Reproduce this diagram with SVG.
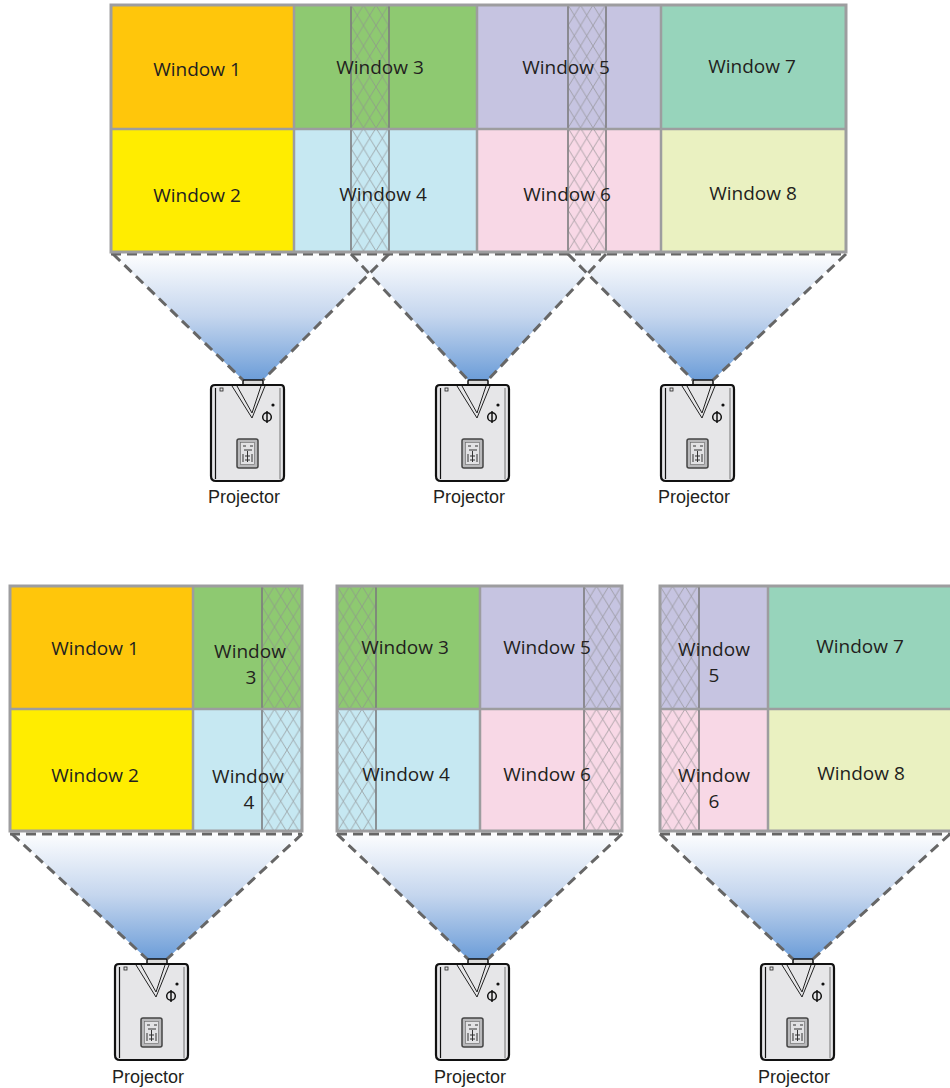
<svg xmlns="http://www.w3.org/2000/svg" xmlns:xlink="http://www.w3.org/1999/xlink" width="950" height="1088" viewBox="0 0 950 1088">
  <style>
    .lbl { font-family: "Open Sans", "Liberation Sans", sans-serif; font-size: 19px; fill: #231f20; text-anchor: middle; }
    .plbl { font-family: "Liberation Sans", Arial, sans-serif; font-size: 18px; fill: #231f20; text-anchor: middle; }
    .grid { fill: none; stroke: #9d9d9f; stroke-width: 3; }
    .div { stroke: #9d9d9f; stroke-width: 2.5; }
    .edge { stroke: #7c7c7e; stroke-width: 1.6; }
    .dash { fill: none; stroke: #666; stroke-width: 3; stroke-dasharray: 10 6; }
    .beam { fill: url(#beamGrad); }
    .w1 { fill: #ffc60b; } .w2 { fill: #ffed00; } .w3 { fill: #8ec971; } .w4 { fill: #c6e8f2; }
    .w5 { fill: #c6c4e1; } .w6 { fill: #f8d8e6; } .w7 { fill: #97d4bb; } .w8 { fill: #eaf1c1; }
  </style>
  <defs>
    <linearGradient id="beamGrad" x1="0" y1="0" x2="0" y2="1">
      <stop offset="0" stop-color="#ffffff"/>
      <stop offset="0.5" stop-color="#c5d6ee"/>
      <stop offset="1" stop-color="#6c9dd8"/>
    </linearGradient>
    <pattern id="hatch" patternUnits="userSpaceOnUse" width="12.5" height="20.5">
      <path d="M0,0 L12.5,20.5 M12.5,0 L0,20.5" stroke="#8e8e90" stroke-width="0.7" fill="none"/>
    </pattern>
    <!-- projector drawn relative to the top centre of its lens -->
    <g id="projIcon">
      <rect x="-10" y="0" width="20" height="6" rx="1" fill="#dcdcdc" stroke="#111" stroke-width="1.5"/>
      <path d="M-38,5 H28 Q31,5 31,9 V96 Q31,101 26,101 H-37 Q-42,101 -42,96 V9 Q-42,5 -38,5 Z" fill="#e6e6e8" stroke="#111" stroke-width="2.2"/>
      <path d="M-37.5,8 V99" stroke="#111" stroke-width="1.2"/>
      <path d="M27,8 V99" stroke="#555" stroke-width="0.8"/>
      <path d="M-21,6 L-1,38 L12,6" fill="none" stroke="#222" stroke-width="1"/>
      <path d="M-16,6 L-1,33 L8,6" fill="none" stroke="#222" stroke-width="1"/>
      <rect x="-33" y="8" width="3" height="3" fill="none" stroke="#222" stroke-width="0.8"/>
      <circle cx="20" cy="25" r="1.6" fill="#111"/>
      <circle cx="14" cy="37" r="4.3" fill="none" stroke="#111" stroke-width="1.5"/>
      <path d="M14,31 V43" stroke="#111" stroke-width="1.5"/>
      <rect x="-16" y="59" width="21" height="29" rx="2" fill="#b9b9bb" stroke="#444" stroke-width="1.5"/>
      <rect x="-12.5" y="62.5" width="14" height="22" fill="#e2e2e4" stroke="#666" stroke-width="0.6"/>
      <path d="M-10,66 h3 M-3,66 h3 M-9,70 h8 M-10,74 v8 M-1,74 v8 M-5.5,71 v11 M-8,76 h5 M-8,80 h5" stroke="#333" stroke-width="1" fill="none"/>
    </g>
  </defs>

  <!-- light cones -->
  <g id="beams">
    <polygon class="beam" points="111,252 389,252 263,380 243,380"/>
    <polygon class="beam" points="351,252 606,252 488,380 468,380"/>
    <polygon class="beam" points="568,252 846,252 713,380 693,380"/>
    <polygon class="beam" points="10,831 302,831 167,959 147,959"/>
    <polygon class="beam" points="337,831 622,831 488,959 468,959"/>
    <polygon class="beam" points="660,831 952,831 813,959 793,959"/>
  </g>
  <!-- dashed cone outlines -->
  <g id="connectors">
    <path class="dash" d="M111,254 H846"/>
    <path class="dash" d="M113,254 L243,380 M389,254 L263,380"/>
    <path class="dash" d="M351,254 L468,380 M606,254 L488,380"/>
    <path class="dash" d="M568,254 L693,380 M846,254 L713,380"/>
    <path class="dash" d="M10,834 H302 M337,834 H622 M660,834 H952"/>
    <path class="dash" d="M12,834 L147,959 M302,834 L167,959"/>
    <path class="dash" d="M337,834 L468,959 M622,834 L488,959"/>
    <path class="dash" d="M660,834 L793,959 M950,834 L813,959"/>
  </g>

  <!-- combined wall image -->
  <g id="wall">
    <rect class="w1" x="111" y="5" width="183" height="124"/>
    <rect class="w3" x="294" y="5" width="183" height="124"/>
    <rect class="w5" x="477" y="5" width="184" height="124"/>
    <rect class="w7" x="661" y="5" width="185" height="124"/>
    <rect class="w2" x="111" y="129" width="183" height="123"/>
    <rect class="w4" x="294" y="129" width="183" height="123"/>
    <rect class="w6" x="477" y="129" width="184" height="123"/>
    <rect class="w8" x="661" y="129" width="185" height="123"/>
    <rect transform="translate(351,5)" width="38" height="247" fill="url(#hatch)"/>
    <rect transform="translate(568,5)" width="38" height="247" fill="url(#hatch)"/>
    <path class="edge" d="M351,5 V252 M389,5 V252 M568,5 V252 M606,5 V252"/>
    <path class="div" d="M111,129 H846 M294,5 V252 M477,5 V252 M661,5 V252"/>
    <rect class="grid" x="111" y="5" width="735" height="247"/>
    <text class="lbl" x="197" y="76">Window 1</text>
    <text class="lbl" x="380" y="74">Window 3</text>
    <text class="lbl" x="566" y="74">Window 5</text>
    <text class="lbl" x="752" y="73">Window 7</text>
    <text class="lbl" x="197" y="202">Window 2</text>
    <text class="lbl" x="383" y="201">Window 4</text>
    <text class="lbl" x="567" y="201">Window 6</text>
    <text class="lbl" x="753" y="200">Window 8</text>
  </g>

  <!-- left projector image -->
  <g id="panelA">
    <rect class="w1" x="10" y="586" width="183" height="123"/>
    <rect class="w3" x="193" y="586" width="109" height="123"/>
    <rect class="w2" x="10" y="709" width="183" height="122"/>
    <rect class="w4" x="193" y="709" width="109" height="122"/>
    <rect transform="translate(262,586)" width="40" height="245" fill="url(#hatch)"/>
    <path class="edge" d="M262,586 V831"/>
    <path class="div" d="M10,709 H302 M193,586 V831"/>
    <rect class="grid" x="10" y="586" width="292" height="245"/>
    <text class="lbl" x="95" y="655">Window 1</text>
    <text class="lbl" x="250" y="658">Window</text>
    <text class="lbl" x="251" y="684">3</text>
    <text class="lbl" x="95" y="782">Window 2</text>
    <text class="lbl" x="248" y="783">Window</text>
    <text class="lbl" x="249" y="809">4</text>
  </g>

  <!-- middle projector image -->
  <g id="panelB">
    <rect class="w3" x="337" y="586" width="143" height="123"/>
    <rect class="w5" x="480" y="586" width="142" height="123"/>
    <rect class="w4" x="337" y="709" width="143" height="122"/>
    <rect class="w6" x="480" y="709" width="142" height="122"/>
    <rect transform="translate(337,586)" width="39" height="245" fill="url(#hatch)"/>
    <rect transform="translate(584,586)" width="38" height="245" fill="url(#hatch)"/>
    <path class="edge" d="M376,586 V831 M584,586 V831"/>
    <path class="div" d="M337,709 H622 M480,586 V831"/>
    <rect class="grid" x="337" y="586" width="285" height="245"/>
    <text class="lbl" x="405" y="654">Window 3</text>
    <text class="lbl" x="547" y="654">Window 5</text>
    <text class="lbl" x="406" y="781">Window 4</text>
    <text class="lbl" x="547" y="781">Window 6</text>
  </g>

  <!-- right projector image -->
  <g id="panelC">
    <rect class="w5" x="660" y="586" width="108" height="123"/>
    <rect class="w7" x="768" y="586" width="184" height="123"/>
    <rect class="w6" x="660" y="709" width="108" height="122"/>
    <rect class="w8" x="768" y="709" width="184" height="122"/>
    <rect transform="translate(660,586)" width="39" height="245" fill="url(#hatch)"/>
    <path class="edge" d="M699,586 V831"/>
    <path class="div" d="M660,709 H952 M768,586 V831"/>
    <rect class="grid" x="660" y="586" width="300" height="245"/>
    <text class="lbl" x="714" y="656">Window</text>
    <text class="lbl" x="714" y="682">5</text>
    <text class="lbl" x="714" y="782">Window</text>
    <text class="lbl" x="714" y="808">6</text>
    <text class="lbl" x="860" y="653">Window 7</text>
    <text class="lbl" x="861" y="780">Window 8</text>
  </g>

  <!-- projectors -->
  <g id="projector1"><use xlink:href="#projIcon" x="253" y="380"/><text class="plbl" x="244" y="503">Projector</text></g>
  <g id="projector2"><use xlink:href="#projIcon" x="478" y="380"/><text class="plbl" x="469" y="503">Projector</text></g>
  <g id="projector3"><use xlink:href="#projIcon" x="703" y="380"/><text class="plbl" x="694" y="503">Projector</text></g>
  <g id="projector4"><use xlink:href="#projIcon" x="157" y="959"/><text class="plbl" x="148" y="1083">Projector</text></g>
  <g id="projector5"><use xlink:href="#projIcon" x="478" y="959"/><text class="plbl" x="470" y="1083">Projector</text></g>
  <g id="projector6"><use xlink:href="#projIcon" x="803" y="959"/><text class="plbl" x="794" y="1083">Projector</text></g>
</svg>
